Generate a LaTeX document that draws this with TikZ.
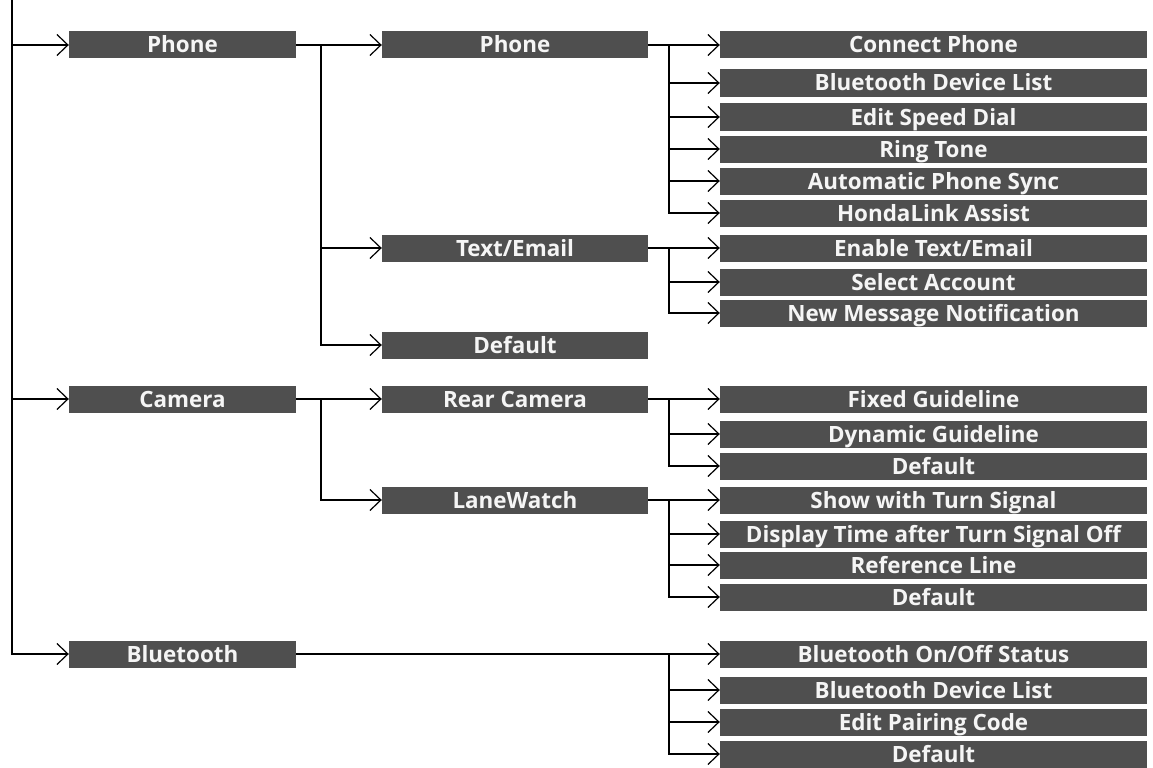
\documentclass[tikz,border=0pt]{standalone}
\usepackage{fontspec}
\setmainfont{Open Sans}
\usetikzlibrary{arrows.meta}
\definecolor{boxgray}{HTML}{4F4F4F}
\tikzset{
  x=1bp, y=-1bp,
  menubox/.style={fill=boxgray, text=white!96!black, font=\fontsize{22.5}{22.5}\selectfont\bfseries,
    inner sep=0pt, minimum height=27bp, text height=16bp, text depth=0bp, anchor=center},
  lvA/.style={menubox, minimum width=227bp},
  lvB/.style={menubox, minimum width=266bp},
  lvC/.style={menubox, minimum width=427bp},
  conn/.style={line width=2.2bp, black},
  arr/.style={conn, -{Straight Barb[length=11bp,width=21bp,line width=1.2bp]}},
}
\begin{document}
\begin{tikzpicture}
\useasboundingbox (0,0) rectangle (1153,768);
% level 1
\node[lvA] (ph1) at (182.5,45) {Phone};
\node[lvA] (cam1) at (182.5,399) {Camera};
\node[lvA] (bt1) at (182.5,654) {Bluetooth};
% level 2
\node[lvB] (ph2) at (515,45) {Phone};
\node[lvB] (te2) at (515,248) {Text/Email};
\node[lvB] (df2) at (515,345) {Default};
\node[lvB] (rc2) at (515,399) {Rear Camera};
\node[lvB] (lw2) at (515,500) {LaneWatch};
% level 3
\node[lvC] (c1) at (933.5,45) {Connect Phone};
\node[lvC] (c2) at (933.5,83) {Bluetooth Device List};
\node[lvC] (c3) at (933.5,117) {Edit Speed Dial};
\node[lvC] (c4) at (933.5,149) {Ring Tone};
\node[lvC] (c5) at (933.5,181) {Automatic Phone Sync};
\node[lvC] (c6) at (933.5,213) {HondaLink Assist};
\node[lvC] (t1) at (933.5,248) {Enable Text/Email};
\node[lvC] (t2) at (933.5,282) {Select Account};
\node[lvC] (t3) at (933.5,313) {New Message Notification};
\node[lvC] (r1) at (933.5,399) {Fixed Guideline};
\node[lvC] (r2) at (933.5,434) {Dynamic Guideline};
\node[lvC] (r3) at (933.5,466) {Default};
\node[lvC] (l1) at (933.5,500) {Show with Turn Signal};
\node[lvC] (l2) at (933.5,534) {Display Time after Turn Signal Off};
\node[lvC] (l3) at (933.5,565) {Reference Line};
\node[lvC] (l4) at (933.5,597) {Default};
\node[lvC] (b1) at (933.5,654) {Bluetooth On/Off Status};
\node[lvC] (b2) at (933.5,690) {Bluetooth Device List};
\node[lvC] (b3) at (933.5,722) {Edit Pairing Code};
\node[lvC] (b4) at (933.5,754) {Default};
% connector coordinates
\coordinate (top) at (12,0);
\coordinate (va) at (321,0);
\coordinate (vb) at (669,0);
% root
\draw[arr] (top) |- (bt1.west);
\draw[arr] (top |- ph1.west) -- (ph1.west);
\draw[arr] (top |- cam1.west) -- (cam1.west);
% phone level 1 -> level 2
\draw[arr] (ph1.east) -- (ph2.west);
\draw[arr] (ph1.east -| va) |- (df2.west);
\draw[arr] (va |- te2.west) -- (te2.west);
% camera level 1 -> level 2
\draw[arr] (cam1.east) -- (rc2.west);
\draw[arr] (cam1.east -| va) |- (lw2.west);
% phone level 2 -> level 3
\draw[arr] (ph2.east) -- (c1.west);
\draw[arr] (ph2.east -| vb) |- (c6.west);
\foreach \n in {c2,c3,c4,c5} \draw[arr] (vb |- \n.west) -- (\n.west);
% text/email
\draw[arr] (te2.east) -- (t1.west);
\draw[arr] (te2.east -| vb) |- (t3.west);
\draw[arr] (vb |- t2.west) -- (t2.west);
% rear camera
\draw[arr] (rc2.east) -- (r1.west);
\draw[arr] (rc2.east -| vb) |- (r3.west);
\draw[arr] (vb |- r2.west) -- (r2.west);
% lanewatch
\draw[arr] (lw2.east) -- (l1.west);
\draw[arr] (lw2.east -| vb) |- (l4.west);
\foreach \n in {l2,l3} \draw[arr] (vb |- \n.west) -- (\n.west);
% bluetooth
\draw[arr] (bt1.east) -- (b1.west);
\draw[arr] (bt1.east -| vb) |- (b4.west);
\foreach \n in {b2,b3} \draw[arr] (vb |- \n.west) -- (\n.west);
\end{tikzpicture}
\end{document}
